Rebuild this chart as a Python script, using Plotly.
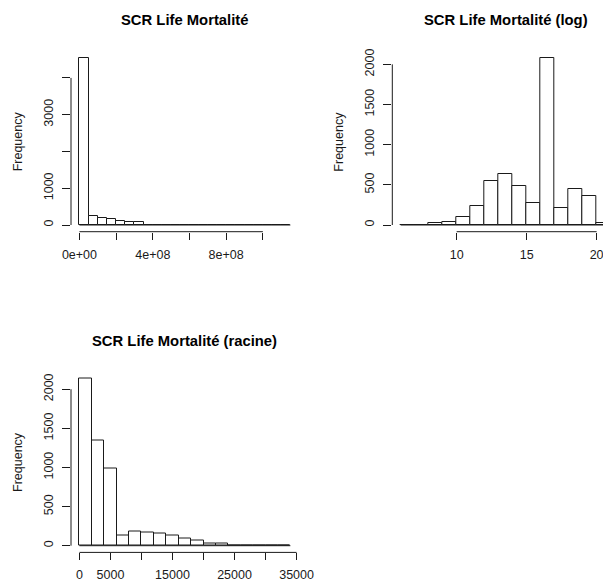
import plotly.graph_objects as go

# --- SCR Life Mortalité : raw amounts, bins of 5e7 ---
raw_breaks = [i * 5e7 for i in range(24)]          # 0 .. 1.15e9
raw_counts = [4550, 245, 200, 155, 109, 72, 72, 12, 10, 8,
              0, 0, 0, 0, 0, 0, 0, 0, 0, 0, 0, 0, 0]

# --- log-transformed amounts, bins of width 1 ---
log_breaks = list(range(6, 22))                     # 6 .. 21
log_counts = [0, 0, 20, 37, 95, 232, 543, 639, 485, 278, 2083, 207, 444, 357, 29]

# --- square-root-transformed amounts, bins of 2000 ---
sqrt_breaks = [i * 2000 for i in range(18)]         # 0 .. 34000
sqrt_counts = [2141, 1339, 990, 128, 184, 171, 150, 128, 90, 64, 31, 22,
               0, 0, 0, 0, 0]

titles = ["SCR Life Mortalité", "SCR Life Mortalité (log)", "SCR Life Mortalité (racine)"]
ylab = "Frequency"

raw_xticks = [0, 2e8, 4e8, 6e8, 8e8, 1e9]
raw_xtext = ["0e+00", "", "4e+08", "", "8e+08", ""]
raw_yticks = [0, 1000, 2000, 3000, 4000]
raw_ytext = ["0", "1000", "", "3000", ""]
log_xticks = [10, 15, 20]
log_yticks = [0, 500, 1000, 1500, 2000]
sqrt_xticks = [0, 5000, 10000, 15000, 20000, 25000, 30000, 35000]
sqrt_xtext = ["0", "5000", "", "15000", "", "25000", "", "35000"]
sqrt_yticks = [0, 500, 1000, 1500, 2000]

W, H = 603, 583
FONT = "Liberation Sans, Arial, sans-serif"
INK = "#1a1a1a"


def px_x(p):
    return p / W


def px_y(p):
    return 1 - p / H


fig = go.Figure()


def add_hist(breaks, counts, xa, ya):
    centers = [(a + b) / 2 for a, b in zip(breaks[:-1], breaks[1:])]
    widths = [b - a for a, b in zip(breaks[:-1], breaks[1:])]
    fig.add_trace(go.Bar(
        x=centers, y=counts, width=widths, xaxis=xa, yaxis=ya,
        marker=dict(color="white", line=dict(color=INK, width=1)),
        showlegend=False, hoverinfo="skip",
    ))
    # zero-count bins still show as a flat line along the base
    fig.add_shape(type="line", xref=xa, yref=ya,
                  x0=breaks[0], x1=breaks[-1], y0=0, y1=0,
                  line=dict(color=INK, width=1), layer="above")


add_hist(raw_breaks, raw_counts, "x", "y")
add_hist(log_breaks, log_counts, "x2", "y2")
add_hist(sqrt_breaks, sqrt_counts, "x3", "y3")


def yrange(counts):
    m = max(counts)
    return [-0.04 * m, 1.04 * m]


def xrange(breaks):
    span = breaks[-1] - breaks[0]
    return [breaks[0] - 0.04 * span, breaks[-1] + 0.04 * span]


tickfont = dict(family=FONT, size=12.5, color=INK)
common_x = dict(showgrid=False, zeroline=False, showline=False, ticks="outside",
                ticklen=7, tickwidth=1, tickcolor=INK, tickfont=tickfont,
                automargin=False, ticklabelstandoff=4, ticklabeloverflow="allow")
common_y = dict(showgrid=False, zeroline=False, showline=False, ticks="outside",
                ticklen=8, tickwidth=1, tickcolor=INK, tickfont=tickfont,
                automargin=False, tickangle=-90, ticklabelstandoff=4,
                ticklabeloverflow="allow")

# plot regions (pixels): left, right, top, bottom
p1 = (71, 298.8, 51, 231.7)
p2 = (392.3, 603, 51, 231.7)
p3 = (71, 298.8, 371.5, 552.4)

# log panel runs past the right edge of the page
log_span = log_breaks[-1] - log_breaks[0]
log_left = log_breaks[0] - 0.04 * log_span
log_px_per_unit = (619 - 392.3) / (1.08 * log_span)
log_right = log_left + (p2[1] - p2[0]) / log_px_per_unit

fig.update_layout(
    width=W, height=H, margin=dict(l=0, r=0, t=0, b=0),
    paper_bgcolor="white", plot_bgcolor="white", template="none",
    bargap=0,
    xaxis=dict(domain=[px_x(p1[0]), px_x(p1[1])], range=xrange(raw_breaks),
               tickvals=raw_xticks, ticktext=raw_xtext, anchor="y", **common_x),
    yaxis=dict(domain=[px_y(p1[3]), px_y(p1[2])], range=yrange(raw_counts),
               tickvals=raw_yticks, ticktext=raw_ytext, anchor="x", **common_y),
    xaxis2=dict(domain=[px_x(p2[0]), px_x(p2[1])], range=[log_left, log_right],
                tickvals=log_xticks, anchor="y2", **common_x),
    yaxis2=dict(domain=[px_y(p2[3]), px_y(p2[2])], range=yrange(log_counts),
                tickvals=log_yticks, anchor="x2", **common_y),
    xaxis3=dict(domain=[px_x(p3[0]), px_x(p3[1])], range=xrange(sqrt_breaks),
                tickvals=sqrt_xticks, ticktext=sqrt_xtext, anchor="y3", **common_x),
    yaxis3=dict(domain=[px_y(p3[3]), px_y(p3[2])], range=yrange(sqrt_counts),
                tickvals=sqrt_yticks, anchor="x3", **common_y),
)

# axis lines spanning first to last tick only
for xa, ya, xt, yt in [("x", "y", raw_xticks, raw_yticks),
                       ("x2", "y2", log_xticks, log_yticks),
                       ("x3", "y3", sqrt_xticks, sqrt_yticks)]:
    fig.add_shape(type="line", xref=xa, yref=ya + " domain",
                  x0=xt[0], x1=xt[-1], y0=0, y1=0,
                  line=dict(color=INK, width=1))
    fig.add_shape(type="line", xref=xa + " domain", yref=ya,
                  x0=0, x1=0, y0=yt[0], y1=yt[-1],
                  line=dict(color=INK, width=1))

# panel titles and y-axis labels
for (l, r, t, b), title, cx in [(p1, titles[0], None), (p2, titles[1], 505.7),
                                 (p3, titles[2], None)]:
    center = cx if cx is not None else (l + r) / 2
    fig.add_annotation(text="<b>" + title + "</b>", xref="paper", yref="paper",
                       x=px_x(center), y=px_y(t - 31), showarrow=False,
                       xanchor="center", yanchor="middle",
                       font=dict(family=FONT, size=14.8, color="black"))
    fig.add_annotation(text=ylab, xref="paper", yref="paper",
                       x=px_x(l - 53), y=px_y((t + b) / 2), showarrow=False,
                       textangle=-90, xanchor="center", yanchor="middle",
                       font=dict(family=FONT, size=12.5, color=INK))

fig.write_html("out.html")
